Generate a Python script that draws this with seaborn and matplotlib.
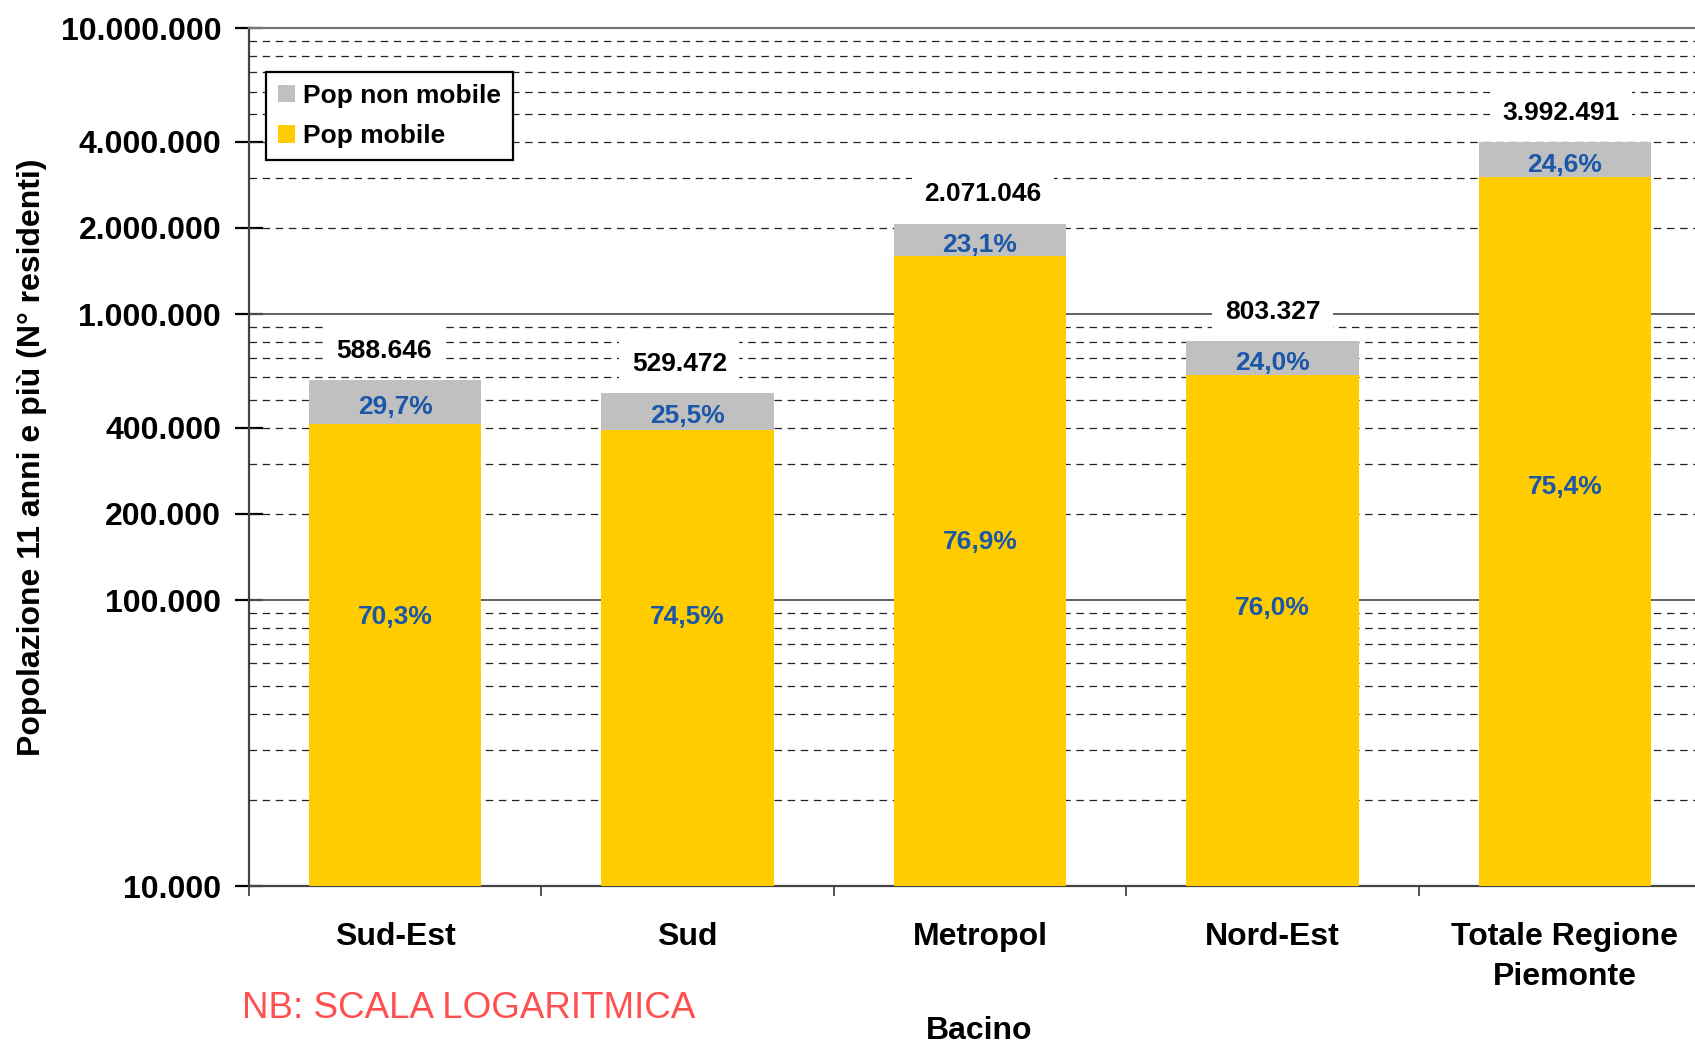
import matplotlib
matplotlib.use("Agg")
import matplotlib.pyplot as plt
import matplotlib.ticker as mticker
from matplotlib.patches import Patch
import seaborn as sns
import pandas as pd
import numpy as np

# ---- data ----
categories = ["Sud-Est", "Sud", "Metropol", "Nord-Est", "Totale Regione\nPiemonte"]
totals = [588646, 529472, 2071046, 803327, 3992491]
pop_mobile = [413818, 394457, 1592634, 610529, 3010338]
pct_non_mobile = ["29,7%", "25,5%", "23,1%", "24,0%", "24,6%"]
pct_mobile = ["70,3%", "74,5%", "76,9%", "76,0%", "75,4%"]
total_labels = ["588.646", "529.472", "2.071.046", "803.327", "3.992.491"]
mobile_label_y = [87000, 87000, 159000, 93500, 248000]
ytick_vals = [10000, 100000, 200000, 400000, 1000000, 2000000, 4000000, 10000000]
ytick_labels = ["10.000", "100.000", "200.000", "400.000", "1.000.000",
                "2.000.000", "4.000.000", "10.000.000"]

df = pd.DataFrame({"Bacino": categories, "tot": totals, "mob": pop_mobile})

GRAY = "#C0C0C0"
YELLOW = "#FFCC00"
BLUE = "#1A57A8"

sns.set_style("white")
plt.rcParams["font.family"] = ["Liberation Sans", "DejaVu Sans"]
plt.rcParams["text.color"] = "black"
plt.rcParams["axes.labelcolor"] = "black"
plt.rcParams["xtick.color"] = "black"
plt.rcParams["ytick.color"] = "black"

fig = plt.figure(figsize=(16.95, 10.43), dpi=100)
ax = fig.add_axes([0.1469, 0.1505, 0.8626, 0.8226])

ax.set_yscale("log")
sns.barplot(data=df, x="Bacino", y="tot", color=GRAY, width=0.59,
            saturation=1, ax=ax, zorder=3, linewidth=0, edgecolor="none")
sns.barplot(data=df, x="Bacino", y="mob", color=YELLOW, width=0.59,
            saturation=1, ax=ax, zorder=4, linewidth=0, edgecolor="none")
if ax.get_legend() is not None:
    ax.get_legend().remove()

ax.set_ylim(10000, 10000000)
ax.set_xlim(-0.5, 4.5)

# y ticks
ax.yaxis.set_major_locator(mticker.FixedLocator(ytick_vals))
ax.yaxis.set_major_formatter(mticker.FixedFormatter(ytick_labels))
ax.yaxis.set_minor_locator(mticker.LogLocator(base=10, subs=np.arange(2, 10)))
ax.yaxis.set_minor_formatter(mticker.NullFormatter())
ax.yaxis.remove_overlapping_locs = False
ax.tick_params(axis="y", which="major", direction="inout", length=20, width=1.6,
               color="black", labelsize=23, pad=10, left=True, labelcolor="black")
ax.tick_params(axis="y", which="minor", length=0, left=False)
for t in ax.get_yticklabels():
    t.set_fontweight("bold")

# gridlines: dashed minor, solid decades
ax.yaxis.grid(True, which="minor", linestyle=(0, (6, 4.5)), color="#222222",
              linewidth=0.9, zorder=0)
ax.yaxis.grid(False, which="major")
for dec in [1e5, 1e6, 1e7]:
    ax.axhline(dec, color="#555555", linewidth=1.3, zorder=1)

# x ticks
ax.set_xticks(range(len(categories)))
ax.set_xticklabels(categories, fontsize=23, fontweight="bold", linespacing=1.45,
                   color="black")
ax.set_xticks(np.arange(-0.5, len(categories), 1.0), minor=True)
ax.tick_params(axis="x", which="major", length=0, pad=26)
ax.tick_params(axis="x", which="minor", direction="out", length=7, width=1.2,
               color="#333333", bottom=True)

ax.set_xlabel("")
fig.text(979 / 1695, 1 - 1031 / 1043, "Bacino", fontsize=23, fontweight="bold",
         color="black", ha="center", va="center")
ax.set_ylabel("Popolazione 11 anni e più (N° residenti)", fontsize=23,
              fontweight="bold", labelpad=10, color="black")

for s in ["left", "bottom"]:
    ax.spines[s].set_color("#444444")
    ax.spines[s].set_linewidth(1.6)
ax.spines["top"].set_color("#777777")
ax.spines["top"].set_linewidth(1.6)
ax.spines["right"].set_visible(False)

# annotations
total_dx = [-8, -6, 2, 0, -3]
for i in range(len(categories)):
    top_non = np.sqrt(totals[i] * pop_mobile[i])
    ax.text(i, top_non * 0.96, pct_non_mobile[i], ha="center", va="center",
            fontsize=19, fontweight="bold", color=BLUE, zorder=6)
    ax.text(i, mobile_label_y[i], pct_mobile[i], ha="center", va="center",
            fontsize=19, fontweight="bold", color=BLUE, zorder=6)
    ax.annotate(total_labels[i], xy=(i, totals[i]), xytext=(total_dx[i], 21),
                textcoords="offset points", ha="center", va="center",
                fontsize=19, fontweight="bold", color="black", zorder=6,
                bbox=dict(facecolor="white", edgecolor="none", pad=9))

handles = [Patch(facecolor=GRAY, edgecolor="none"),
           Patch(facecolor=YELLOW, edgecolor="none")]
leg = fig.legend(handles, ["Pop non mobile", "Pop mobile"],
                 loc="upper left", bbox_to_anchor=(0.1569, 0.931),
                 prop={"size": 19, "weight": "bold"}, frameon=True,
                 fancybox=False, framealpha=1, facecolor="white",
                 handlelength=0.65, handleheight=0.65,
                 handletextpad=0.3, borderpad=0.45, labelspacing=0.62,
                 borderaxespad=0)
leg.get_frame().set_edgecolor("black")
leg.get_frame().set_linewidth(1.6)
leg.set_zorder(10)

fig.text(242 / 1695, 1 - 1008 / 1043, "NB: SCALA LOGARITMICA", fontsize=26.5,
         color="#FF5050", ha="left", va="center")

fig.savefig("out.png", dpi=100, facecolor="white")
